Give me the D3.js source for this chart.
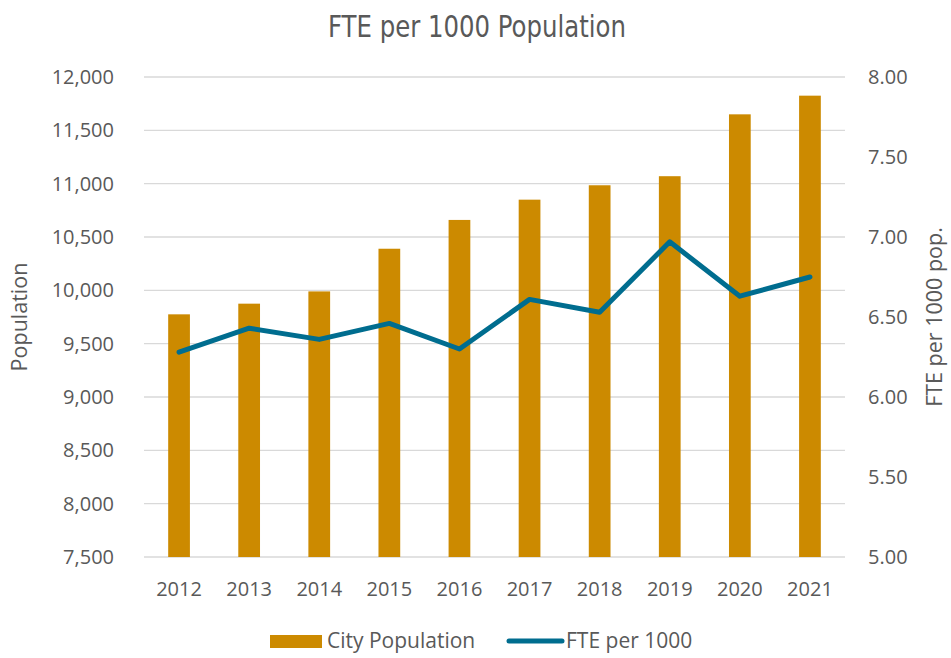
<!DOCTYPE html>
<html>
<head>
<meta charset="utf-8">
<script src="https://cdn.jsdelivr.net/npm/d3@7"></script>
<style>
  body { margin: 0; background: #fff; }
  svg { display: block; }
  text { fill: #595959; }
</style>
</head>
<body>
<svg id="chart" width="951" height="658"></svg>
<script>
// data
const years = ["2012", "2013", "2014", "2015", "2016", "2017", "2018", "2019", "2020", "2021"];
const population = [9775, 9875, 9990, 10390, 10660, 10850, 10985, 11070, 11650, 11825];
const ftePer1000 = [6.28, 6.43, 6.36, 6.46, 6.30, 6.61, 6.53, 6.97, 6.63, 6.75];
const popTicks = [7500, 8000, 8500, 9000, 9500, 10000, 10500, 11000, 11500, 12000];
const fteTicks = [5, 5.5, 6, 6.5, 7, 7.5, 8];

const width = 951, height = 658;
const margin = { top: 77, right: 106, bottom: 101, left: 144 };
const font = "'Open Sans', Lato, sans-serif";
const barColor = "#cc8a00";
const lineColor = "#006d8f";

const svg = d3.select("#chart");

const x = d3.scaleBand()
  .domain(years)
  .range([margin.left, width - margin.right])
  .paddingInner(0.69)
  .paddingOuter(0.345);

const yPop = d3.scaleLinear()
  .domain([7500, 12000])
  .range([height - margin.bottom, margin.top]);

const yFte = d3.scaleLinear()
  .domain([5, 8])
  .range([height - margin.bottom, margin.top]);

// gridlines (left axis only)
svg.append("g")
  .selectAll("line")
  .data(popTicks)
  .join("line")
  .attr("x1", margin.left)
  .attr("x2", width - margin.right)
  .attr("y1", d => yPop(d))
  .attr("y2", d => yPop(d))
  .attr("stroke", "#d9d9d9")
  .attr("stroke-width", 1.3);

// axes
const leftAxis = svg.append("g")
  .attr("transform", `translate(${margin.left},0)`)
  .call(d3.axisLeft(yPop).tickValues(popTicks).tickFormat(d3.format(",")).tickSize(0).tickPadding(30));
leftAxis.select(".domain").remove();

const rightAxis = svg.append("g")
  .attr("transform", `translate(${width - margin.right},0)`)
  .call(d3.axisRight(yFte).tickValues(fteTicks).tickFormat(d3.format(".2f")).tickSize(0).tickPadding(23));
rightAxis.select(".domain").remove();

const bottomAxis = svg.append("g")
  .attr("transform", `translate(0,${height - margin.bottom})`)
  .call(d3.axisBottom(x).tickSize(0).tickPadding(25));
bottomAxis.select(".domain").remove();

svg.selectAll(".tick text")
  .style("font-family", font)
  .style("font-size", "20px")
  .attr("fill", "#595959");

// bars
svg.append("g")
  .selectAll("rect")
  .data(years)
  .join("rect")
  .attr("x", d => x(d))
  .attr("width", x.bandwidth())
  .attr("y", (d, i) => yPop(population[i]))
  .attr("height", (d, i) => yPop(7500) - yPop(population[i]))
  .attr("fill", barColor);

// FTE line on the right axis
const line = d3.line()
  .x((d, i) => x(years[i]) + x.bandwidth() / 2)
  .y(d => yFte(d));

svg.append("path")
  .datum(ftePer1000)
  .attr("d", line)
  .attr("fill", "none")
  .attr("stroke", lineColor)
  .attr("stroke-width", 5)
  .attr("stroke-linejoin", "round")
  .attr("stroke-linecap", "round");

// title
svg.append("text")
  .attr("x", 477)
  .attr("y", 37)
  .attr("text-anchor", "middle")
  .attr("textLength", 298)
  .attr("lengthAdjust", "spacingAndGlyphs")
  .style("font-family", "'DejaVu Sans Condensed', 'DejaVu Sans', sans-serif")
  .style("font-size", "31px")
  .text("FTE per 1000 Population");

// axis titles
svg.append("text")
  .attr("transform", "translate(27,317) rotate(-90)")
  .attr("text-anchor", "middle")
  .style("font-family", font)
  .style("font-size", "21.5px")
  .text("Population");

svg.append("text")
  .attr("transform", "translate(942,317) rotate(-90)")
  .attr("text-anchor", "middle")
  .style("font-family", font)
  .style("font-size", "21.5px")
  .text("FTE per 1000 pop.");

// legend
const legend = svg.append("g").style("font-family", font).style("font-size", "21px");
legend.append("rect")
  .attr("x", 270).attr("y", 635).attr("width", 52).attr("height", 13)
  .attr("fill", barColor);
legend.append("text")
  .attr("x", 327).attr("y", 648)
  .text("City Population");
legend.append("line")
  .attr("x1", 509).attr("x2", 562).attr("y1", 641).attr("y2", 641)
  .attr("stroke", lineColor).attr("stroke-width", 5).attr("stroke-linecap", "round");
legend.append("text")
  .attr("x", 566).attr("y", 648)
  .text("FTE per 1000");
</script>
</body>
</html>
